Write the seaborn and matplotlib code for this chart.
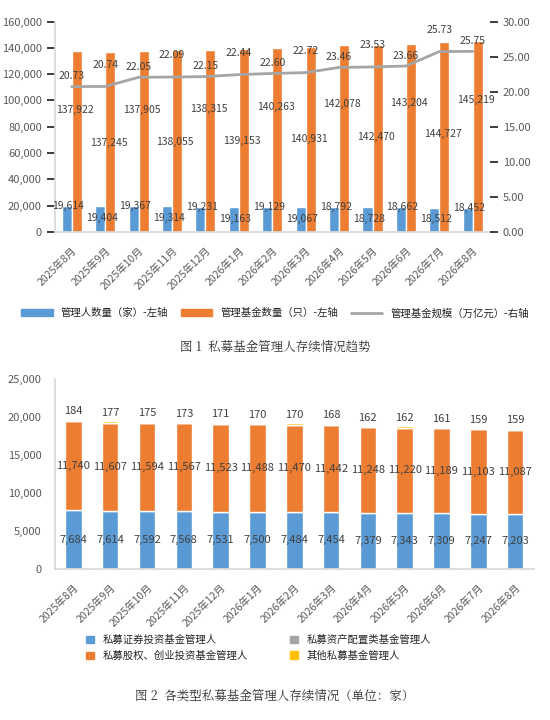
import matplotlib.pyplot as plt
import seaborn as sns
import numpy as np
import pandas as pd

months = ["2025年8月", "2025年9月", "2025年10月", "2025年11月", "2025年12月", "2026年1月",
          "2026年2月", "2026年3月", "2026年4月", "2026年5月", "2026年6月", "2026年7月", "2026年8月"]
managers = [19614, 19404, 19367, 19314, 19231, 19163, 19129, 19067, 18792, 18728, 18662, 18512, 18452]
funds = [137922, 137245, 137905, 138055, 138315, 139153, 140263, 140931, 142078, 142470, 143204, 144727, 145219]
scale = [20.73, 20.74, 22.05, 22.09, 22.15, 22.44, 22.60, 22.72, 23.46, 23.53, 23.66, 25.73, 25.75]

securities = [7684, 7614, 7592, 7568, 7531, 7500, 7484, 7454, 7379, 7343, 7309, 7247, 7203]
equity = [11740, 11607, 11594, 11567, 11523, 11488, 11470, 11442, 11248, 11220, 11189, 11103, 11087]
allocation = [6, 6, 6, 6, 6, 5, 5, 3, 3, 3, 3, 3, 3]
other = [184, 177, 175, 173, 171, 170, 170, 168, 162, 162, 161, 159, 159]

blue, orange, gray, yellow = "#5b9bd5", "#ed7d31", "#a5a5a5", "#ffc000"

sns.set_theme(style="white")
plt.rcParams["font.family"] = ["Noto Sans CJK SC", "DejaVu Sans"]

fig = plt.figure(figsize=(5.5, 7.2), dpi=100)
x = np.arange(len(months))

# Chart 1 -----
ax1 = fig.add_axes([0.10, 0.678, 0.79, 0.292])
df1 = pd.DataFrame({"month": months * 2,
                    "value": managers + funds,
                    "kind": ["管理人数量（家）-左轴"] * 13 + ["管理基金数量（只）-左轴"] * 13})
sns.barplot(data=df1, x="month", y="value", hue="kind", palette=[blue, orange],
            width=0.6, ax=ax1, legend=False, saturation=1)
ax1.set_ylim(0, 160000)
ax1.set_yticks(range(0, 160001, 20000))
ax1.set_yticklabels([f"{v:,}" for v in range(0, 160001, 20000)], fontsize=8, color="#595959")
ax1.set_xlabel("")
ax1.set_ylabel("")
ax1.set_xticks(x)
ax1.set_xticklabels(months, rotation=45, ha="right", fontsize=7.5, color="#595959", rotation_mode="anchor")
for i in range(13):
    ax1.text(i - 0.1, managers[i] - 9000 * (i % 2), f"{managers[i]:,}", ha="center", va="center", fontsize=7.5, color="#404040")
    ax1.text(i + 0.1, funds[i] - 45000 - 25000 * (i % 2), f"{funds[i]:,}", ha="center", va="center", fontsize=7.5, color="#404040")
for s in ["top", "right"]:
    ax1.spines[s].set_visible(False)
ax1.spines["left"].set_color("#d9d9d9")
ax1.spines["bottom"].set_color("#d9d9d9")

ax1b = ax1.twinx()
sns.lineplot(x=x, y=scale, color=gray, linewidth=2, ax=ax1b)
ax1b.set_ylim(0, 30)
ax1b.set_yticks(range(0, 31, 5))
ax1b.set_yticklabels([f"{v:.2f}" for v in range(0, 31, 5)], fontsize=8, color="#595959")
for i in range(13):
    ax1b.text(i, scale[i] + 1.5 + 1.6 * (i % 2), f"{scale[i]:.2f}", ha="center", va="center", fontsize=7.5, color="#404040")
for s in ["top", "right", "left", "bottom"]:
    ax1b.spines[s].set_visible(False)
ax1.set_xlim(-0.5, 12.5)

handles = [plt.Rectangle((0, 0), 1, 1, color=blue), plt.Rectangle((0, 0), 1, 1, color=orange),
           plt.Line2D([], [], color=gray, lw=2)]
fig.legend(handles, ["管理人数量（家）-左轴", "管理基金数量（只）-左轴", "管理基金规模（万亿元）-右轴"],
           loc="center", bbox_to_anchor=(0.5, 0.565), ncol=3, frameon=False, fontsize=7.5,
           handlelength=3, columnspacing=1.2)
fig.text(0.5, 0.513, "图 1  私募基金管理人存续情况趋势", ha="center", fontsize=9,
         family=["Noto Serif CJK SC", "Noto Sans CJK SC"], color="#333333")

# Chart 2 -----
ax2 = fig.add_axes([0.10, 0.21, 0.87, 0.264])
bottom = np.zeros(13)
for vals, col in [(securities, blue), (equity, orange), (allocation, gray), (other, yellow)]:
    ax2.bar(x, vals, bottom=bottom, color=col, width=0.45)
    bottom = bottom + np.array(vals)
for i in range(13):
    ax2.text(i, securities[i] * 0.5, f"{securities[i]:,}", ha="center", va="center", fontsize=8, color="#404040")
    ax2.text(i, securities[i] + equity[i] * 0.5, f"{equity[i]:,}", ha="center", va="center", fontsize=8, color="#404040")
    ax2.text(i, bottom[i] + 1100, f"{other[i]}", ha="center", va="center", fontsize=8, color="#404040")
ax2.set_ylim(0, 25000)
ax2.set_yticks(range(0, 25001, 5000))
ax2.set_yticklabels([f"{v:,}" for v in range(0, 25001, 5000)], fontsize=8, color="#595959")
ax2.set_xticks(x)
ax2.set_xticklabels(months, rotation=45, ha="right", fontsize=7.5, color="#595959", rotation_mode="anchor")
ax2.set_xlim(-0.5, 12.5)
for s in ["top", "right"]:
    ax2.spines[s].set_visible(False)
ax2.spines["left"].set_color("#d9d9d9")
ax2.spines["bottom"].set_color("#d9d9d9")

handles2 = [plt.Rectangle((0, 0), 1, 1, color=c) for c in [blue, orange, gray, yellow]]
fig.legend(handles2, ["私募证券投资基金管理人", "私募股权、创业投资基金管理人", "私募资产配置类基金管理人", "其他私募基金管理人"],
           loc="center", bbox_to_anchor=(0.47, 0.1), ncol=2, frameon=False, fontsize=7.5,
           handlelength=0.8, columnspacing=4)
fig.text(0.5, 0.028, "图 2  各类型私募基金管理人存续情况（单位：家）", ha="center", fontsize=9,
         family=["Noto Serif CJK SC", "Noto Sans CJK SC"], color="#333333")

fig.savefig("out.png", dpi=100)
